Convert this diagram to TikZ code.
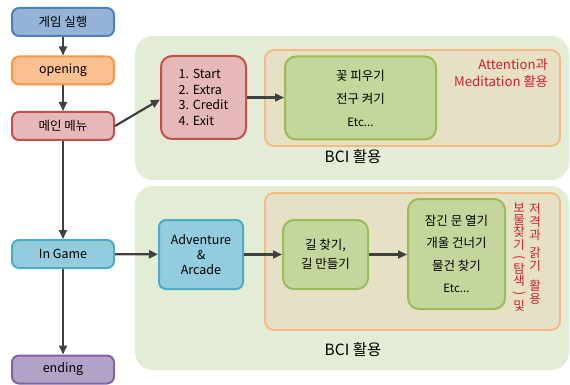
\documentclass[tikz,border=0pt]{standalone}
\usepackage{fontspec}
\setmainfont{Noto Sans CJK KR}
\usepackage{tikz}
\usetikzlibrary{calc,arrows.meta}
\tikzset{>={Triangle[length=9pt,width=8pt]}}
\definecolor{panelgreen}{HTML}{E3ECD4}
\definecolor{beige}{HTML}{E6E1C4}
\definecolor{orangeline}{HTML}{F5B985}
\definecolor{innergreen}{HTML}{C4D69C}
\definecolor{greenline}{HTML}{9BBB59}
\definecolor{redtext}{HTML}{D0202E}
\definecolor{arrowgray}{HTML}{404040}
\tikzset{
  stepbox/.style={draw,line width=2pt,rounded corners=7pt,minimum width=102pt,minimum height=28pt,inner sep=1pt,font=\fontsize{12.5}{14}\selectfont},
  panel/.style={fill=panelgreen,draw=none,rounded corners=18pt},
  bcibox/.style={fill=beige,draw=orangeline,line width=1.8pt,rounded corners=9pt},
  taskbox/.style={draw=greenline,fill=innergreen,line width=2pt,rounded corners=11pt,align=center,inner sep=1pt},
  flow/.style={->,line width=2.2pt,arrowgray},
  redcol/.style={text=redtext,align=center,inner sep=0pt,font=\fontsize{12.5}{12.2}\selectfont}
}
\newcommand{\vparen}[1]{\rotatebox[origin=c]{-90}{#1}}
\begin{document}
\begin{tikzpicture}[x=1pt,y=-1pt]
\useasboundingbox (0,0) rectangle (570,385);
    \fill[panel] (135,36) rectangle (569,180);
    \fill[panel] (135,186) rectangle (569,370);
    \draw[bcibox] (265,50) rectangle (560,146);
    \draw[bcibox] (265,193) rectangle (560,330);
    \node (bcitop) at (353,157) {\fontsize{15.5}{17}\selectfont BCI 활용};
    \node (bcibot) at (353,350) {\fontsize{15.5}{17}\selectfont BCI 활용};
    \node[stepbox,fill={rgb,255:red,149;green,179;blue,215},draw={rgb,255:red,79;green,129;blue,189}] (run) at (63,22) {게임 실행};
    \node[stepbox,fill={rgb,255:red,250;green,192;blue,144},draw={rgb,255:red,247;green,150;blue,70}] (opening) at (63,70.5) {opening};
    \node[stepbox,fill={rgb,255:red,230;green,185;blue,184},draw={rgb,255:red,192;green,80;blue,77}] (mainmenu) at (63,126) {메인 메뉴};
    \node[stepbox,fill={rgb,255:red,147;green,205;blue,221},draw={rgb,255:red,75;green,172;blue,198}] (ingame) at (63,254) {In Game};
    \node[stepbox,fill={rgb,255:red,179;green,162;blue,199},draw={rgb,255:red,128;green,100;blue,162}] (ending) at (63,369.5) {ending};
    \node[draw={rgb,255:red,192;green,80;blue,77},fill={rgb,255:red,230;green,185;blue,184},line width=2pt,rounded corners=11pt,minimum width=85pt,minimum height=83pt,align=left,font=\fontsize{12.5}{15.5}\selectfont] (menu) at (203.5,97.5) {1. Start\\2. Extra\\3. Credit\\4. Exit};
    \node[taskbox,minimum width=151pt,minimum height=83pt,font=\fontsize{12.5}{23}\selectfont] (bloom) at (360.5,98) {꽃 피우기\\전구 켜기\\{\fontsize{11.5}{12}\selectfont Etc...}};
    \node[text=redtext,align=right,anchor=east,inner sep=0pt,font=\fontsize{13.2}{17}\selectfont] (attn) at (548,73.5) {Attention과\\Meditation 활용};
    \node[draw={rgb,255:red,75;green,172;blue,198},fill={rgb,255:red,147;green,205;blue,221},line width=2pt,rounded corners=7pt,minimum width=84pt,minimum height=69pt,align=center,font=\fontsize{12.5}{15}\selectfont] (adv) at (201,254.5) {Adventure\\\&\\Arcade};
    \node[taskbox,minimum width=85pt,minimum height=69pt,font=\fontsize{12.5}{19}\selectfont] (path) at (325.5,254.5) {길 찾기,\\길 만들기};
    \node[taskbox,minimum width=97pt,minimum height=110pt,font=\fontsize{12.5}{22.5}\selectfont] (door) at (456.5,254) {잠긴 문 열기\\개울 건너기\\물건 찾기\\{\fontsize{11.5}{12}\selectfont Etc...}};
    \node[redcol] (treasure) at (519,257) {보\\물\\찾\\기\\\vparen{(}\\탐\\색\\\vparen{)}\\및};
    \node[redcol,font=\fontsize{12.5}{13}\selectfont] (snipe) at (535,254) {저\\격\\과\\[5pt]갉\\기\\[7pt]활\\용};
    \draw[flow] (run) -- (opening);
    \draw[flow] (opening) -- (mainmenu);
    \draw[flow] (mainmenu) -- (ingame);
    \draw[flow] (ingame) -- (ending);
    \draw[flow] (mainmenu.east) -- ($(menu.west)+(0,2)$);
    \draw[flow] (menu.east) -- (menu.east -| bloom.west);
    \draw[flow] (ingame) -- (adv);
    \draw[flow] (adv) -- (path);
    \draw[flow] (path) -- (path -| door.west);
    \end{tikzpicture}
\end{document}
